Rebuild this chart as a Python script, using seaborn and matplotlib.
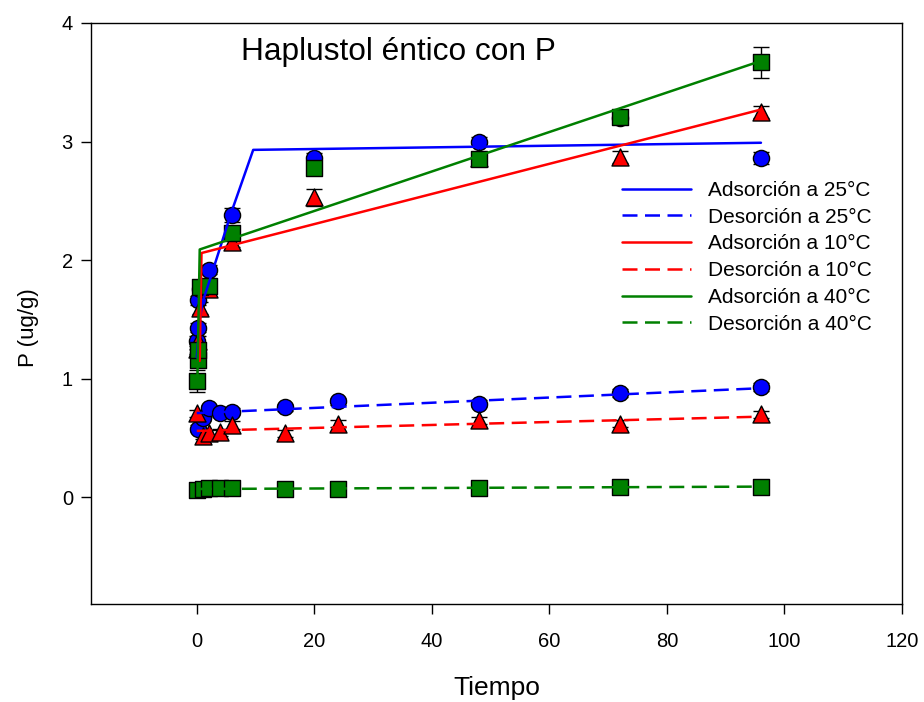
import numpy as np
import pandas as pd
import matplotlib
matplotlib.use("Agg")
import matplotlib.pyplot as plt
import seaborn as sns

# --- measured points (time in h, P in ug/g) ---
ads25_t = [0.08, 0.17, 0.25, 0.5, 2, 6, 20, 48, 72, 96]
ads25_p = [1.32, 1.43, 1.66, 1.76, 1.92, 2.38, 2.86, 3.00, 3.20, 2.86]
ads25_e = [0.04, 0.04, 0.04, 0.04, 0.04, 0.06, 0.04, 0.04, 0.05, 0.05]

ads10_t = [0.08, 0.25, 0.5, 2, 6, 20, 48, 72, 96]
ads10_p = [1.25, 1.32, 1.60, 1.76, 2.15, 2.53, 2.86, 2.87, 3.25]
ads10_e = [0.04, 0.04, 0.05, 0.04, 0.04, 0.07, 0.04, 0.05, 0.05]

ads40_t = [0.08, 0.17, 0.25, 0.5, 2, 6, 20, 48, 72, 96]
ads40_p = [0.98, 1.16, 1.24, 1.77, 1.78, 2.23, 2.78, 2.85, 3.21, 3.67]
ads40_e = [0.09, 0.06, 0.05, 0.05, 0.05, 0.05, 0.05, 0.05, 0.06, 0.13]

des25_t = [0.25, 1, 2, 4, 6, 15, 24, 48, 72, 96]
des25_p = [0.58, 0.67, 0.75, 0.71, 0.72, 0.76, 0.81, 0.79, 0.88, 0.93]
des25_e = [0.03, 0.03, 0.03, 0.03, 0.03, 0.03, 0.03, 0.03, 0.03, 0.03]

des10_t = [0.08, 1, 2, 4, 6, 15, 24, 48, 72, 96]
des10_p = [0.71, 0.52, 0.54, 0.55, 0.61, 0.54, 0.62, 0.65, 0.62, 0.70]
des10_e = [0.03, 0.03, 0.03, 0.03, 0.03, 0.03, 0.03, 0.03, 0.03, 0.03]

des40_t = [0.08, 1, 2, 4, 6, 15, 24, 48, 72, 96]
des40_p = [0.06, 0.07, 0.075, 0.075, 0.075, 0.07, 0.07, 0.08, 0.09, 0.09]
des40_e = [0.01, 0.01, 0.01, 0.01, 0.01, 0.01, 0.01, 0.01, 0.01, 0.01]

# --- fitted kinetic curves ---
fit_ads25_t = [0.0, 0.5, 1, 2, 6, 9.6, 96]
fit_ads25_p = [1.18, 1.50, 1.65, 1.80, 2.42, 2.93, 2.99]
fit_ads10_t = [0.5, 0.8, 96]
fit_ads10_p = [1.15, 2.06, 3.27]
fit_ads40_t = [0.1, 0.5, 96]
fit_ads40_p = [0.98, 2.09, 3.68]
fit_des_t = [0, 96]
fit_des25_p = [0.71, 0.92]
fit_des10_p = [0.56, 0.68]
fit_des40_p = [0.07, 0.09]

BLUE, RED, GREEN = "#0000ff", "#ff0000", "#008000"

sns.set_style("ticks")
plt.rcParams["font.family"] = ["Liberation Sans", "DejaVu Sans"]
plt.rcParams["text.color"] = "black"
plt.rcParams["axes.labelcolor"] = "black"

fig = plt.figure(figsize=(9.24, 7.02), dpi=100)
ax = fig.add_axes([91 / 924, 1 - 604 / 702, (902 - 91) / 924, (604 - 23) / 702])

series = [
    (ads25_t, ads25_p, ads25_e, BLUE, "o"),
    (des25_t, des25_p, des25_e, BLUE, "o"),
    (ads10_t, ads10_p, ads10_e, RED, "^"),
    (des10_t, des10_p, des10_e, RED, "^"),
    (ads40_t, ads40_p, ads40_e, GREEN, "s"),
    (des40_t, des40_p, des40_e, GREEN, "s"),
]

for t, p, e, c, m in series:
    ax.errorbar(t, p, yerr=e, fmt="none", ecolor="black", elinewidth=1,
                capsize=5.5, capthick=1, zorder=2)
    df = pd.DataFrame({"t": t, "p": p})
    size = 135 if m != "^" else 150
    sns.scatterplot(data=df, x="t", y="p", ax=ax, color=c, marker=m, s=size,
                    edgecolor="black", linewidth=1, zorder=3, legend=False)

fits = [
    (fit_ads25_t, fit_ads25_p, BLUE, "-", "Adsorción a 25°C"),
    (fit_des_t, fit_des25_p, BLUE, "--", "Desorción a 25°C"),
    (fit_ads10_t, fit_ads10_p, RED, "-", "Adsorción a 10°C"),
    (fit_des_t, fit_des10_p, RED, "--", "Desorción a 10°C"),
    (fit_ads40_t, fit_ads40_p, GREEN, "-", "Adsorción a 40°C"),
    (fit_des_t, fit_des40_p, GREEN, "--", "Desorción a 40°C"),
]
handles = []
for t, p, c, ls, lab in fits:
    df = pd.DataFrame({"t": t, "p": p})
    sns.lineplot(data=df, x="t", y="p", ax=ax, color=c, linewidth=1.8,
                 estimator=None, sort=False, zorder=4)
    line = ax.lines[-1]
    line.set_linestyle(ls)
    if ls == "--":
        line.set_dashes((6, 3))
    line.set_label(lab)
    handles.append(line)

ax.set_xlim(-18, 120)
ax.set_ylim(-0.9, 4)
ax.set_xticks([0, 20, 40, 60, 80, 100, 120])
ax.set_yticks([0, 1, 2, 3, 4])
ax.tick_params(axis="both", direction="out", length=7, width=1, labelsize=14.5,
               color="black", labelcolor="black")
ax.tick_params(axis="x", pad=13)
ax.tick_params(axis="y", pad=6)
for sp in ax.spines.values():
    sp.set_color("black")
    sp.set_linewidth(1)

ax.set_xlabel("Tiempo", fontsize=19, labelpad=18)
ax.set_ylabel("P (ug/g)", fontsize=16)
ax.yaxis.set_label_coords(-0.064, 0.475)

ax.text(7.6, 3.755, "Haplustol éntico con P", fontsize=22.8, ha="left",
        va="center", color="black")

leg = ax.legend(handles=handles, loc="upper left", bbox_to_anchor=(0.655, 0.728),
                frameon=False, fontsize=15, handlelength=3.3, handletextpad=0.8,
                labelspacing=0.37, borderpad=0, borderaxespad=0)
for h in leg.legend_handles:
    h.set_linewidth(1.8)

fig.savefig("out.png", dpi=100)
